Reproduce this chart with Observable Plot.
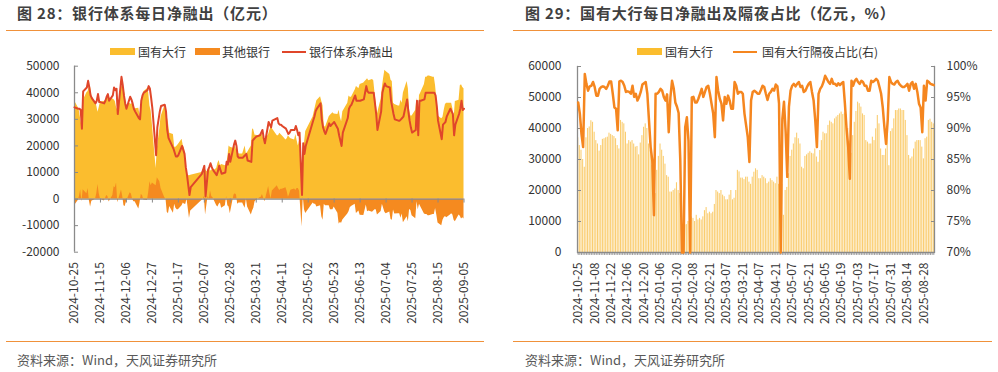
<!DOCTYPE html>
<html><head><meta charset="utf-8">
<script src="https://cdn.jsdelivr.net/npm/d3@7"></script>
<script src="https://cdn.jsdelivr.net/npm/@observablehq/plot@0.6"></script>
<style>
html,body{margin:0;padding:0;background:#fff;overflow:hidden;}
#wrap{position:relative;width:998px;height:372px;overflow:hidden;font-family:"Noto Sans CJK SC",sans-serif;}
.title{position:absolute;top:3px;line-height:20px;font-size:15px;font-weight:bold;color:#404040;letter-spacing:0.8px;white-space:nowrap;}
.rule{position:absolute;height:0;border-top:1.6px solid #F0913A;}
.src{position:absolute;top:350px;line-height:20px;font-size:13px;color:#595959;white-space:nowrap;}
.lg{position:absolute;top:43px;line-height:17px;font-size:12px;color:#333;white-space:nowrap;}
.sw{position:absolute;top:48px;width:25px;height:7px;}
.ln{position:absolute;top:50.5px;width:24px;height:2px;}
.chart{position:absolute;top:0;}
</style></head>
<body><div id="wrap">
<div class="title" style="left:17px">图 28：银行体系每日净融出（亿元）</div>
<div class="title" style="left:525px">图 29：国有大行每日净融出及隔夜占比（亿元，%）</div>
<div class="rule" style="left:6px;width:478px;top:30px"></div>
<div class="rule" style="left:513px;width:479px;top:30px"></div>
<div class="sw" style="left:110px;background:#FBBD2E"></div><div class="lg" style="left:138px">国有大行</div>
<div class="sw" style="left:195px;background:#F58A1F"></div><div class="lg" style="left:222px">其他银行</div>
<div class="ln" style="left:282px;background:#E0462A"></div><div class="lg" style="left:309px">银行体系净融出</div>
<div class="sw" style="left:637px;background:#FBBD2E"></div><div class="lg" style="left:665px">国有大行</div>
<div class="ln" style="left:733px;background:#F5861F;height:2.5px"></div><div class="lg" style="left:762px">国有大行隔夜占比(右)</div>
<div class="rule" style="left:6px;width:478px;top:341px"></div>
<div class="rule" style="left:513px;width:479px;top:341px"></div>
<div class="src" style="left:17px">资料来源：Wind，天风证券研究所</div>
<div class="src" style="left:525px">资料来源：Wind，天风证券研究所</div>
<div id="c1" class="chart" style="left:0px"></div>
<div id="c2" class="chart" style="left:500px"></div>
</div>
<script>
const tradingDates = [
"2024-10-25","2024-10-28","2024-10-29","2024-10-30","2024-10-31",
"2024-11-01","2024-11-04","2024-11-05","2024-11-06","2024-11-07","2024-11-08","2024-11-11","2024-11-12","2024-11-13","2024-11-14","2024-11-15","2024-11-18","2024-11-19","2024-11-20","2024-11-21","2024-11-22","2024-11-25","2024-11-26","2024-11-27","2024-11-28","2024-11-29",
"2024-12-02","2024-12-03","2024-12-04","2024-12-05","2024-12-06","2024-12-09","2024-12-10","2024-12-11","2024-12-12","2024-12-13","2024-12-16","2024-12-17","2024-12-18","2024-12-19","2024-12-20","2024-12-23","2024-12-24","2024-12-25","2024-12-26","2024-12-27","2024-12-30","2024-12-31",
"2025-01-02","2025-01-03","2025-01-06","2025-01-07","2025-01-08","2025-01-09","2025-01-10","2025-01-13","2025-01-14","2025-01-15","2025-01-16","2025-01-17","2025-01-20","2025-01-21","2025-01-22","2025-01-23","2025-01-24","2025-01-26","2025-01-27",
"2025-02-05","2025-02-06","2025-02-07","2025-02-08","2025-02-10","2025-02-11","2025-02-12","2025-02-13","2025-02-14","2025-02-17","2025-02-18","2025-02-19","2025-02-20","2025-02-21","2025-02-24","2025-02-25","2025-02-26","2025-02-27","2025-02-28",
"2025-03-03","2025-03-04","2025-03-05","2025-03-06","2025-03-07","2025-03-10","2025-03-11","2025-03-12","2025-03-13","2025-03-14","2025-03-17","2025-03-18","2025-03-19","2025-03-20","2025-03-21","2025-03-24","2025-03-25","2025-03-26","2025-03-27","2025-03-28","2025-03-31",
"2025-04-01","2025-04-02","2025-04-03","2025-04-07","2025-04-08","2025-04-09","2025-04-10","2025-04-11","2025-04-14","2025-04-15","2025-04-16","2025-04-17","2025-04-18","2025-04-21","2025-04-22","2025-04-23","2025-04-24","2025-04-25","2025-04-27","2025-04-28","2025-04-29","2025-04-30",
"2025-05-06","2025-05-07","2025-05-08","2025-05-09","2025-05-12","2025-05-13","2025-05-14","2025-05-15","2025-05-16","2025-05-19","2025-05-20","2025-05-21","2025-05-22","2025-05-23","2025-05-26","2025-05-27","2025-05-28","2025-05-29","2025-05-30",
"2025-06-03","2025-06-04","2025-06-05","2025-06-06","2025-06-09","2025-06-10","2025-06-11","2025-06-12","2025-06-13","2025-06-16","2025-06-17","2025-06-18","2025-06-19","2025-06-20","2025-06-23","2025-06-24","2025-06-25","2025-06-26","2025-06-27","2025-06-30",
"2025-07-01","2025-07-02","2025-07-03","2025-07-04","2025-07-07","2025-07-08","2025-07-09","2025-07-10","2025-07-11","2025-07-14","2025-07-15","2025-07-16","2025-07-17","2025-07-18","2025-07-21","2025-07-22","2025-07-23","2025-07-24","2025-07-25","2025-07-28","2025-07-29","2025-07-30","2025-07-31",
"2025-08-01","2025-08-04","2025-08-05","2025-08-06","2025-08-07","2025-08-08","2025-08-11","2025-08-12","2025-08-13","2025-08-14","2025-08-15","2025-08-18","2025-08-19","2025-08-20","2025-08-21","2025-08-22","2025-08-25","2025-08-26","2025-08-27","2025-08-28","2025-08-29",
"2025-09-01","2025-09-02","2025-09-03","2025-09-04","2025-09-05"];

// 国有大行 (亿元)
const bigBanks = [
37000,34500,33000,30000,27500,37000,40000,40500,42500,42000,
38800,36100,35000,32700,34500,36500,36700,37000,37200,38500,
38100,37700,37400,36700,34500,33400,42600,42000,41500,38800,
35000,36100,35600,36100,35000,34000,34200,31500,35300,37700,
40400,41500,40000,35000,33000,28000,11500,19000,26500,31000,
35000,33000,31000,28500,24800,24300,19500,19500,20000,20500,
22500,20000,19000,14000,9000,8800,9000,10000,11000,11500,
11000,10000,12000,10500,11000,10500,11500,13500,14500,12500,
13000,12500,13000,15500,20000,19500,19000,20000,18500,18000,
17000,17000,18500,20000,17000,17500,20000,26500,26000,24000,
24000,23500,24300,24300,22700,22000,24300,25900,27000,26500,
23800,23800,24800,24300,23800,22200,22700,23800,23200,22700,
22200,24300,22000,20000,22000,12000,20000,21000,25400,31000,
33000,35000,37000,38500,36700,35000,27500,27000,31000,31500,
32000,32500,32000,31800,33400,30800,29100,32900,36100,38800,
38300,38300,41000,42400,42000,41500,43100,43700,44200,44700,
45300,44500,45000,44500,40000,36000,32000,37700,42000,45500,
48500,48000,46900,44700,44200,36100,35600,35000,35000,37200,
36100,39900,44200,41500,33400,31300,31300,33400,38000,28000,
39000,39900,43100,45800,45800,46300,46300,45800,45800,42600,
37700,31300,30200,30800,33400,35600,36100,36100,36100,34000,
30200,36700,37200,42600,43000,42000,41500];

// 其他银行 (亿元)
const otherBanks = [
-2500,-500,1000,3500,-1000,3500,2000,4000,-500,-3000,
-800,-100,2000,5500,2000,0,-700,0,1300,1000,
-1100,1300,4600,4300,6000,-1400,3400,1000,-2500,-2800,
-1000,2400,1900,-100,-1000,-1000,-3700,-1500,1700,1300,
-400,-500,2500,6500,5000,6000,5000,8000,6500,4000,
500,0,-5000,-5500,-2800,-5300,-2000,-3500,-4000,-4000,
-2500,-1500,-2000,-2000,0,-7300,-4500,-500,0,1000,
-6000,1000,0,3000,1000,500,-2500,-3000,-2000,-1500,
-3500,-2500,1000,-2500,-3000,-5500,1500,2000,1500,-2000,
-1500,-1500,-2500,-3500,0,-3000,-6000,-4500,-3500,-1000,
-500,500,700,1700,300,-1000,4700,2100,0,3000,
5000,4000,3200,3700,3700,4300,2800,700,1800,3300,
3800,3200,4000,4000,3000,-10500,1000,-4000,-5400,-1500,
-2000,-2000,-3000,-2500,-6700,-8000,-2000,-2500,-2500,-4000,
-4000,-4000,-3000,-5300,-9400,-8800,-9100,-7900,-5600,-4800,
-3300,-2800,-2000,-5400,-5000,-4500,-6100,-6200,-4200,-2200,
-4800,-4500,-5000,-4500,-4000,-4000,-6000,-4700,-2000,-3500,
-5000,-5500,-4900,-7700,-8000,-4100,-5600,-5500,-5500,-7200,
-5600,-8900,-6700,-8500,-3900,-4300,-6300,-7400,-1000,-4000,
-2000,-2900,-5600,-5800,-5800,-6300,-6300,-5800,-5800,-3600,
-6000,-9000,-10000,-8000,-7000,-6600,-7000,-6000,-5500,-6000,
-8000,-8500,-6000,-6500,-7500,-7000,-7500];

// 银行体系净融出 (亿元)
const systemTotal = [
34500,34000,34000,33500,26500,40500,42000,44500,42000,39000,
38000,36000,37000,39500,36500,36500,36000,37000,38500,39500,
37000,39000,42000,41000,41500,32000,46000,43000,39000,36000,
34000,38500,37500,36000,34000,33000,30500,30000,37000,39000,
40000,41000,42500,41500,38000,34000,16500,27000,33000,35000,
35500,33000,26000,23000,22000,19000,17500,16000,16000,16500,
20000,18500,17000,12000,9000,1500,4500,9500,11000,12500,
1000,11000,12000,13500,12000,11000,9000,10500,12500,11000,
9500,10000,14000,13000,17000,14000,20500,22000,20000,16000,
15500,15500,16000,16500,17000,14500,14000,22000,22500,23000,
23500,24000,25000,26000,23000,21000,29000,28000,27000,29500,
30500,28500,28000,28000,27500,26500,25500,24500,25000,26000,
26000,27500,26000,24000,25000,1500,21000,17000,20000,29500,
31000,33000,34000,36000,30000,27000,25500,24500,28500,27500,
28000,28500,29000,26500,24000,22000,20000,25000,30500,34000,
35000,35500,39000,37000,37000,37000,37000,37500,40000,42500,
40500,40000,40000,40000,36000,32000,26000,33000,40000,42000,
43500,42500,42000,37000,34500,32000,30000,29500,29500,30000,
30500,31000,37500,33000,29500,27000,25000,26000,37000,24000,
37000,37000,37500,40000,40000,40000,40000,40000,40000,39000,
35000,29500,22500,28000,28500,29000,31000,34000,33000,32000,
24000,28000,32000,34000,37000,33500,34000];

// 国有大行隔夜占比 (%)
const overnightShare = [
94.2,92.4,89.1,87.0,98.8,97.2,96.1,96.8,96.9,97.5,
96.7,95.3,95.3,96.4,96.7,96.8,96.7,96.4,96.9,97.6,
97.6,95.6,93.4,93.2,89.7,97.6,97.7,97.5,96.9,95.9,
96.0,95.9,95.6,96.9,95.1,95.6,94.5,95.1,95.9,97.1,
97.3,97.5,95.6,91.3,87.0,84.8,76.0,95.6,95.6,95.9,
96.4,96.1,95.1,94.5,95.5,89.4,95.0,97.7,96.5,94.2,
93.5,92.5,85.0,70.0,70.0,90.2,91.8,88.0,70.0,95.0,
95.1,94.2,94.2,94.8,95.6,96.4,95.1,95.9,96.7,96.9,
95.6,94.0,92.4,88.6,98.3,96.1,94.8,94.0,91.3,95.1,
94.0,95.3,94.5,93.2,93.2,97.5,96.9,95.6,95.9,95.9,
95.6,92.4,90.5,88.6,84.6,94.5,95.9,96.1,95.9,95.6,
95.6,96.2,96.9,96.7,95.6,94.6,95.6,95.9,96.4,96.1,
97.1,96.8,94.0,70.0,91.5,94.3,89.5,82.2,93.5,96.1,
96.9,97.2,96.8,97.2,97.5,96.7,96.9,95.9,96.1,96.7,
97.2,97.5,95.9,94.5,91.3,87.0,95.6,96.4,96.8,97.5,
98.5,98.0,97.5,97.2,98.0,97.2,97.2,96.9,97.3,97.0,
97.3,97.5,94.0,90.0,87.0,81.9,97.7,96.9,97.7,98.0,
97.5,97.2,97.7,97.5,96.9,96.9,96.1,96.1,97.7,97.5,
97.7,98.0,97.7,96.7,95.6,93.4,90.2,87.5,91.3,98.3,
97.5,97.2,97.1,97.5,97.7,97.2,96.9,96.7,96.7,96.9,
97.2,96.1,97.2,97.5,96.4,97.2,95.9,94.0,93.4,89.4,
96.9,94.5,97.7,97.5,97.2,97.1,97.0];

const leftTickLabels = ["2024-10-25","2024-11-15","2024-12-06","2024-12-27","2025-01-17","2025-02-07","2025-02-28","2025-03-21","2025-04-11","2025-05-02","2025-05-23","2025-06-13","2025-07-04","2025-07-25","2025-08-15","2025-09-05"];
const rightTickLabels = ["2024-10-25","2024-11-08","2024-11-22","2024-12-06","2024-12-20","2025-01-06","2025-01-20","2025-02-08","2025-02-21","2025-03-07","2025-03-21","2025-04-07","2025-04-21","2025-05-07","2025-05-21","2025-06-05","2025-06-19","2025-07-03","2025-07-17","2025-07-31","2025-08-14","2025-08-28"];
const leftYTicks = [-20000,-10000,0,10000,20000,30000,40000,50000];
const rightYTicks = [0,10000,20000,30000,40000,50000,60000];
const shareTicks = [70,75,80,85,90,95,100];
const shareMin = 70, shareMax = 100, leftMax = 60000;

const parse = d3.utcParse("%Y-%m-%d");
const fmt = d3.utcFormat("%Y-%m-%d");
const rows = tradingDates.map((d, i) => ({
  key: d, date: parse(d), big: bigBanks[i], other: otherBanks[i],
  total: systemTotal[i], share: overnightShare[i]
}));

const axisGray = "#8a8a8a";
const textCol = "#333";

// ---------- Left chart ----------
{
  const W = 495, H = 335, mT = 65.7, mB = 83.3, mL = 74, mR = 31.5;
  const yDom = [leftYTicks[0], leftYTicks[leftYTicks.length - 1]];
  const innerH = H - mT - mB;
  const zeroOffset = -(innerH * (0 - yDom[0]) / (yDom[1] - yDom[0]));
  const xDom = [parse(leftTickLabels[0]), parse(leftTickLabels[leftTickLabels.length - 1])];
  const tickDates = leftTickLabels.map(parse);
  const chart = Plot.plot({
    width: W, height: H, marginTop: mT, marginBottom: mB, marginLeft: mL, marginRight: mR,
    style: {fontFamily: '"Noto Sans CJK SC", sans-serif', fontSize: "12px", color: textCol, background: "transparent", overflow: "visible"},
    x: {type: "utc", domain: xDom, label: null, axis: null},
    y: {domain: yDom, label: null, axis: null},
    marks: [
      Plot.areaY(rows, {x: "date", y: "big", fill: "#FBBD2E"}),
      Plot.areaY(rows, {x: "date", y: "other", fill: "#F58A1F"}),
      Plot.ruleY([0], {stroke: axisGray, strokeWidth: 1.3}),
      Plot.ruleX([xDom[0]], {stroke: axisGray, strokeWidth: 1.3}),
      Plot.axisY(leftYTicks, {anchor: "left", tickSize: 4, dx: 4, tickFormat: () => "", stroke: axisGray, label: null}),
      Plot.axisY(leftYTicks, {anchor: "left", tickSize: 0, tickPadding: 15, tickFormat: d => String(d), fill: textCol, label: null}),
      Plot.axisX(tickDates, {anchor: "bottom", tickSize: 4, dy: zeroOffset, tickFormat: () => "", stroke: axisGray, label: null}),
      Plot.axisX(tickDates, {anchor: "bottom", tickSize: 0, tickPadding: 10, tickRotate: -90, tickFormat: fmt, fill: textCol, label: null}),
      Plot.lineY(rows, {x: "date", y: "total", stroke: "#E0462A", strokeWidth: 2})
    ]
  });
  document.getElementById("c1").appendChild(chart);
}

// ---------- Right chart ----------
{
  const W = 498, H = 335, mT = 66, mB = 83, mL = 77, mR = 64;
  const toLeft = s => (s - shareMin) / (shareMax - shareMin) * leftMax;
  const chart = Plot.plot({
    width: W, height: H, marginTop: mT, marginBottom: mB, marginLeft: mL, marginRight: mR,
    style: {fontFamily: '"Noto Sans CJK SC", sans-serif', fontSize: "12px", color: textCol, background: "transparent", overflow: "visible"},
    x: {type: "band", domain: tradingDates, paddingInner: 0.35, paddingOuter: 0.1, label: null, axis: null},
    y: {domain: [0, leftMax], label: null, axis: null},
    marks: [
      Plot.barY(rows, {x: "key", y: "big", fill: "#F9C04C", fillOpacity: 0.8}),
      Plot.frame({anchor: "left", stroke: axisGray, strokeWidth: 1.3}),
      Plot.frame({anchor: "right", stroke: axisGray, strokeWidth: 1.3}),
      Plot.ruleY([0], {stroke: axisGray, strokeWidth: 1.3}),
      Plot.axisY(rightYTicks, {anchor: "left", tickSize: 4, dx: 4, tickFormat: () => "", stroke: axisGray, label: null}),
      Plot.axisY(rightYTicks, {anchor: "left", tickSize: 0, tickPadding: 16, tickFormat: d => String(d), fill: textCol, label: null}),
      Plot.axisY(shareTicks.map(toLeft), {anchor: "right", tickSize: 4, dx: -4, tickFormat: () => "", stroke: axisGray, label: null}),
      Plot.axisY(shareTicks.map(toLeft), {anchor: "right", tickSize: 0, tickPadding: 12, tickFormat: v => `${Math.round(shareMin + v / leftMax * (shareMax - shareMin))}%`, fill: textCol, label: null}),
      Plot.axisX(tradingDates, {anchor: "bottom", tickSize: 3, tickFormat: () => "", stroke: axisGray, strokeWidth: 0.8, label: null}),
      Plot.axisX(rightTickLabels, {anchor: "bottom", tickSize: 0, tickPadding: 10, tickRotate: -90, tickFormat: d => d, fill: textCol, label: null}),
      Plot.lineY(rows, {x: "key", y: d => toLeft(d.share), stroke: "#F5861F", strokeWidth: 2.5})
    ]
  });
  document.getElementById("c2").appendChild(chart);
}
</script>
</body></html>
